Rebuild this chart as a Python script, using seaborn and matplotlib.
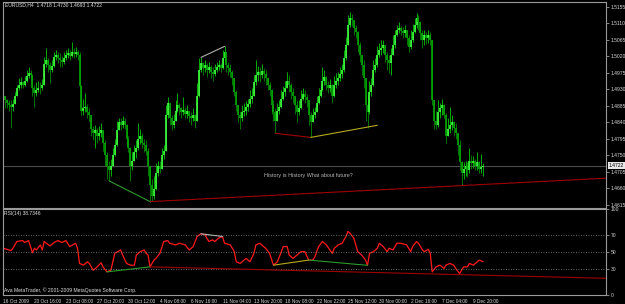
import matplotlib
matplotlib.use('Agg')
import matplotlib.pyplot as plt
import matplotlib.transforms as mtransforms
import numpy as np
import pandas as pd
import seaborn as sns

# EURUSD H4 bars, 16 Oct 2009 .. 10 Dec 2009
first_open = 1.4898
close = [
    1.4913, 1.4900, 1.4892, 1.4886, 1.4883, 1.4889, 1.4913, 1.4933, 1.4943, 1.4949,
    1.4941, 1.4954, 1.4965, 1.4974, 1.4968, 1.4933, 1.4919, 1.4927, 1.4935, 1.4933,
    1.4943, 1.4998, 1.5009, 1.4995, 1.4982, 1.4993, 1.5017, 1.5023, 1.5015, 1.5009,
    1.5004, 1.5015, 1.5023, 1.5028, 1.5020, 1.5031, 1.5025, 1.5031, 1.5023, 1.4938,
    1.4872, 1.4878, 1.4883, 1.4867, 1.4859, 1.4823, 1.4810, 1.4818, 1.4804, 1.4812,
    1.4818, 1.4785, 1.4750, 1.4722, 1.4709, 1.4722, 1.4750, 1.4777, 1.4818, 1.4840,
    1.4832, 1.4845, 1.4834, 1.4796, 1.4771, 1.4722, 1.4736, 1.4758, 1.4769, 1.4796,
    1.4804, 1.4785, 1.4777, 1.4763, 1.4722, 1.4668, 1.4640, 1.4659, 1.4703, 1.4720,
    1.4714, 1.4750, 1.4763, 1.4859, 1.4892, 1.4851, 1.4832, 1.4845, 1.4872, 1.4886,
    1.4878, 1.4867, 1.4875, 1.4864, 1.4872, 1.4856, 1.4851, 1.4861, 1.4845, 1.4913,
    1.4982, 1.5001, 1.4987, 1.4995, 1.4982, 1.4990, 1.4976, 1.4971, 1.4982, 1.4990,
    1.4995, 1.4987, 1.5015, 1.5031, 1.4995, 1.4987, 1.4976, 1.4960, 1.4922, 1.4886,
    1.4859, 1.4851, 1.4867, 1.4872, 1.4881, 1.4889, 1.4905, 1.4913, 1.4949, 1.4968,
    1.4976, 1.4968, 1.4979, 1.4971, 1.4960, 1.4941, 1.4927, 1.4886, 1.4867, 1.4845,
    1.4872, 1.4881, 1.4905, 1.4922, 1.4933, 1.4954, 1.4943, 1.4922, 1.4911, 1.4886,
    1.4867, 1.4878, 1.4905, 1.4916, 1.4908, 1.4900, 1.4859, 1.4840, 1.4859, 1.4867,
    1.4892, 1.4913, 1.4927, 1.4954, 1.4963, 1.4943, 1.4933, 1.4941, 1.4911, 1.4941,
    1.4954, 1.4960, 1.4971, 1.4982, 1.5015, 1.5050, 1.5105, 1.5124, 1.5118, 1.5096,
    1.5086, 1.5050, 1.5023, 1.4995, 1.4960, 1.4886, 1.4867, 1.4922, 1.4941, 1.4982,
    1.4995, 1.5023, 1.5036, 1.5042, 1.5050, 1.5023, 1.5009, 1.5001, 1.5023, 1.5050,
    1.5077, 1.5091, 1.5096, 1.5088, 1.5083, 1.5091, 1.5069, 1.5045, 1.5064, 1.5086,
    1.5105, 1.5124, 1.5113, 1.5083, 1.5064, 1.5077, 1.5069, 1.5077, 1.5064, 1.4900,
    1.4845, 1.4832, 1.4867, 1.4878, 1.4886, 1.4861, 1.4804, 1.4823, 1.4832, 1.4840,
    1.4826, 1.4812, 1.4777, 1.4731, 1.4703, 1.4714, 1.4722, 1.4709, 1.4736, 1.4728,
    1.4736, 1.4722, 1.4731, 1.4714, 1.4718, 1.4722,
]
high = [
    1.4935, 1.4913, 1.4905, 1.4900, 1.4900, 1.4905, 1.4922, 1.4941, 1.4960, 1.4963,
    1.4954, 1.4965, 1.4982, 1.4990, 1.4982, 1.4971, 1.4941, 1.4949, 1.4954, 1.4949,
    1.4957, 1.5017, 1.5042, 1.5015, 1.5004, 1.5009, 1.5031, 1.5036, 1.5031, 1.5028,
    1.5020, 1.5031, 1.5036, 1.5042, 1.5036, 1.5058, 1.5042, 1.5045, 1.5036, 1.5031,
    1.4941, 1.4905, 1.4919, 1.4889, 1.4878, 1.4859, 1.4829, 1.4832, 1.4826, 1.4829,
    1.4837, 1.4818, 1.4791, 1.4758, 1.4736, 1.4741, 1.4769, 1.4796, 1.4845, 1.4853,
    1.4851, 1.4856, 1.4851, 1.4836, 1.4804, 1.4774, 1.4758, 1.4777, 1.4791, 1.4837,
    1.4823, 1.4812, 1.4796, 1.4791, 1.4769, 1.4722, 1.4687, 1.4695, 1.4728, 1.4736,
    1.4736, 1.4771, 1.4777, 1.4886, 1.4908, 1.4894, 1.4859, 1.4864, 1.4900, 1.4919,
    1.4894, 1.4883, 1.4908, 1.4881, 1.4886, 1.4872, 1.4867, 1.4878, 1.4864, 1.4946,
    1.5015, 1.5017, 1.5004, 1.5009, 1.5001, 1.5004, 1.4995, 1.4990, 1.4998, 1.5004,
    1.5009, 1.5001, 1.5036, 1.5047, 1.5033, 1.5004, 1.4998, 1.4982, 1.4962, 1.4927,
    1.4886, 1.4872, 1.4886, 1.4892, 1.4897, 1.4905, 1.4927, 1.4933, 1.4968, 1.5009,
    1.4993, 1.4990, 1.4998, 1.4987, 1.4982, 1.4963, 1.4949, 1.4930, 1.4900, 1.4878,
    1.4892, 1.4900, 1.4927, 1.4938, 1.4954, 1.4976, 1.4968, 1.4946, 1.4933, 1.4913,
    1.4900, 1.4900, 1.4927, 1.4933, 1.4927, 1.4916, 1.4900, 1.4867, 1.4878, 1.4881,
    1.4911, 1.4935, 1.4943, 1.4990, 1.4982, 1.4965, 1.4954, 1.4957, 1.4945, 1.4965,
    1.4974, 1.4976, 1.4990, 1.4998, 1.5036, 1.5072, 1.5132, 1.5140, 1.5135, 1.5118,
    1.5105, 1.5090, 1.5058, 1.5023, 1.5009, 1.4962, 1.4913, 1.4954, 1.4960, 1.5009,
    1.5015, 1.5047, 1.5055, 1.5064, 1.5064, 1.5050, 1.5031, 1.5023, 1.5042, 1.5077,
    1.5091, 1.5105, 1.5113, 1.5102, 1.5099, 1.5105, 1.5091, 1.5077, 1.5091, 1.5107,
    1.5124, 1.5138, 1.5132, 1.5115, 1.5091, 1.5091, 1.5086, 1.5091, 1.5086, 1.5064,
    1.4902, 1.4872, 1.4900, 1.4894, 1.4905, 1.4889, 1.4865, 1.4851, 1.4881, 1.4859,
    1.4845, 1.4837, 1.4812, 1.4791, 1.4736, 1.4731, 1.4736, 1.4731, 1.4771, 1.4750,
    1.4747, 1.4741, 1.4758, 1.4736, 1.4755, 1.4730,
]
low = [
    1.4886, 1.4878, 1.4878, 1.4872, 1.4826, 1.4872, 1.4889, 1.4911, 1.4927, 1.4935,
    1.4933, 1.4938, 1.4949, 1.4960, 1.4954, 1.4913, 1.4881, 1.4913, 1.4922, 1.4916,
    1.4927, 1.4941, 1.4990, 1.4976, 1.4946, 1.4976, 1.4990, 1.5009, 1.5001, 1.4990,
    1.4990, 1.4998, 1.5009, 1.5015, 1.5009, 1.5017, 1.5015, 1.5017, 1.5009, 1.4933,
    1.4859, 1.4859, 1.4867, 1.4853, 1.4845, 1.4804, 1.4791, 1.4769, 1.4785, 1.4791,
    1.4799, 1.4763, 1.4722, 1.4687, 1.4681, 1.4695, 1.4722, 1.4748, 1.4775, 1.4818,
    1.4818, 1.4826, 1.4823, 1.4777, 1.4758, 1.4681, 1.4709, 1.4736, 1.4744, 1.4766,
    1.4782, 1.4771, 1.4758, 1.4750, 1.4695, 1.4624, 1.4627, 1.4632, 1.4655, 1.4695,
    1.4701, 1.4712, 1.4741, 1.4763, 1.4851, 1.4832, 1.4818, 1.4826, 1.4843, 1.4867,
    1.4859, 1.4853, 1.4859, 1.4851, 1.4851, 1.4840, 1.4832, 1.4845, 1.4826, 1.4843,
    1.4910, 1.4976, 1.4968, 1.4976, 1.4963, 1.4974, 1.4960, 1.4954, 1.4965, 1.4976,
    1.4982, 1.4976, 1.4985, 1.5004, 1.4976, 1.4968, 1.4963, 1.4943, 1.4911, 1.4872,
    1.4840, 1.4823, 1.4845, 1.4856, 1.4861, 1.4872, 1.4883, 1.4892, 1.4911, 1.4941,
    1.4954, 1.4949, 1.4960, 1.4954, 1.4943, 1.4927, 1.4911, 1.4864, 1.4845, 1.4810,
    1.4843, 1.4864, 1.4879, 1.4900, 1.4913, 1.4933, 1.4922, 1.4905, 1.4892, 1.4864,
    1.4840, 1.4859, 1.4876, 1.4900, 1.4892, 1.4883, 1.4832, 1.4799, 1.4840, 1.4851,
    1.4867, 1.4890, 1.4908, 1.4925, 1.4943, 1.4927, 1.4919, 1.4922, 1.4892, 1.4909,
    1.4935, 1.4943, 1.4954, 1.4960, 1.4976, 1.5009, 1.5050, 1.5099, 1.5102, 1.5077,
    1.5069, 1.5031, 1.5004, 1.4968, 1.4933, 1.4845, 1.4826, 1.4862, 1.4913, 1.4938,
    1.4976, 1.4992, 1.5017, 1.5023, 1.5028, 1.5004, 1.4982, 1.4974, 1.4968, 1.5023,
    1.5042, 1.5075, 1.5083, 1.5077, 1.5069, 1.5072, 1.5050, 1.5031, 1.5040, 1.5060,
    1.5083, 1.5096, 1.5091, 1.5064, 1.5042, 1.5050, 1.5053, 1.5055, 1.5050, 1.4886,
    1.4823, 1.4823, 1.4828, 1.4851, 1.4859, 1.4851, 1.4785, 1.4804, 1.4812, 1.4818,
    1.4804, 1.4796, 1.4750, 1.4709, 1.4668, 1.4687, 1.4695, 1.4692, 1.4703, 1.4714,
    1.4717, 1.4709, 1.4709, 1.4703, 1.4703, 1.4693,
]

# RSI(14) line, read at roughly every second bar
rsi_bar = [0, 2, 4, 5, 7, 10, 11, 13, 15, 16, 17, 19, 20, 21, 22, 24, 26, 28, 30, 32,
           34, 37, 38, 39, 41, 43, 44, 46, 48, 50, 51, 53, 55, 57, 60, 61, 63, 65, 67, 68,
           70, 72, 73, 74, 75, 77, 78, 80, 82, 84, 85, 88, 90, 93, 95, 97, 99, 101, 103, 105,
           107, 108, 110, 112, 113, 116, 118, 119, 121, 123, 124, 126, 128, 129, 131, 133, 134, 136, 138, 140,
           141, 143, 145, 146, 148, 150, 152, 154, 156, 158, 159, 161, 163, 165, 168, 169, 171, 173, 175, 176,
           177, 179, 181, 183, 185, 186, 187, 189, 191, 192, 194, 196, 197, 199, 201, 203, 206, 208, 209, 211,
           212, 214, 215, 217, 218, 219, 221, 223, 225, 226, 228, 230, 231, 233, 235, 237, 238, 240, 242, 243,
           245]
rsi_value = [54.3, 53.1, 51.6, 54.3, 62.2, 63.3, 61.0, 63.3, 49.2, 54.3, 52.4, 58.2, 52.4, 62.2, 60.2, 57.1, 61.0, 63.3, 61.0, 63.3,
             56.3, 60.2, 54.3, 36.7, 34.7, 38.6, 36.7, 28.8, 32.7, 37.5, 32.7, 26.9, 28.8, 48.4, 52.4, 46.5, 36.7, 34.7, 34.7, 46.5,
             50.4, 52.4, 48.4, 46.5, 32.7, 40.6, 42.5, 48.4, 62.2, 63.3, 60.2, 58.2, 60.2, 58.2, 52.4, 56.3, 68.0, 71.2, 70.0, 62.2,
             64.1, 62.2, 66.1, 68.0, 60.2, 58.2, 50.4, 38.6, 36.7, 40.6, 42.5, 38.6, 48.4, 58.2, 60.2, 56.3, 54.3, 48.4, 34.7, 38.6,
             44.5, 56.3, 56.3, 46.5, 42.5, 46.5, 50.4, 50.4, 40.6, 40.6, 43.7, 56.3, 62.2, 58.2, 48.4, 54.3, 58.2, 60.2, 68.0, 73.9,
             72.0, 66.1, 50.4, 46.5, 40.6, 34.5, 48.4, 50.4, 54.3, 60.2, 56.3, 50.4, 54.3, 52.4, 60.2, 60.2, 58.2, 50.4, 56.3, 62.2,
             60.2, 52.4, 50.4, 53.1, 48.4, 26.9, 32.7, 34.7, 30.8, 34.7, 36.7, 34.7, 30.8, 24.9, 32.7, 32.7, 36.7, 34.7, 38.6, 40.6,
             38.7346]
rsi_levels = [70, 50, 30]
rsi_ticks = [100, 70, 50, 30, 0]

price_ticks = [1.5155, 1.5110, 1.5065, 1.5020, 1.4975, 1.4930, 1.4885,
               1.4840, 1.4795, 1.4750, 1.4705, 1.4660, 1.4615]

date_ticks = [0, 16, 32, 48, 64, 80, 96, 112, 128, 144, 160, 176, 192, 208, 224, 240]
date_labels = ['16 Oct 2009', '20 Oct 16:00', '23 Oct 08:00', '27 Oct 20:00',
               '30 Oct 12:00', '4 Nov 08:00', '6 Nov 16:00', '11 Nov 04:00',
               '13 Nov 20:00', '18 Nov 08:00', '22 Nov 22:00', '25 Nov 12:00',
               '30 Nov 00:00', '2 Dec 16:00', '7 Dec 04:00', '9 Dec 20:00']

# hand drawn trend lines: (colour, bars, values)
price_lines = [
    ('#2a9a2a', [54, 75], [1.4681, 1.4624]),
    ('#a00000', [75, 308], [1.4624, 1.4688]),
    ('#b0b0b0', [101, 113], [1.5017, 1.5047]),
    ('#a00000', [139, 157], [1.4810, 1.4799]),
    ('#b8a820', [157, 191], [1.4799, 1.4832]),
]
rsi_lines = [
    ('#2a9a2a', [53, 75], [26.9, 32.7]),
    ('#a00000', [75, 308], [32.7, 19.4]),
    ('#b0b0b0', [101, 112], [71.2, 68.0]),
    ('#b8a820', [138, 156], [34.7, 40.6]),
    ('#2a9a2a', [156, 186], [40.6, 34.5]),
]

sns.set_theme(style='dark', rc={'axes.facecolor': 'black', 'figure.facecolor': 'black',
                                'axes.edgecolor': '#9a9a9a', 'axes.linewidth': 0.8,
                                'text.color': '#d8d8d8', 'xtick.color': '#d8d8d8',
                                'ytick.color': '#d8d8d8'})
plt.rcParams['font.family'] = ['Liberation Sans', 'DejaVu Sans']
fs = 3.6

W, H = 625.0, 304.0
fig = plt.figure(figsize=(W / 100, H / 100), dpi=100)
ax = fig.add_axes([2.5 / W, 1 - 207.5 / H, 603.5 / W, 205.5 / H])
ax2 = fig.add_axes([2.5 / W, 1 - 295 / H, 603.5 / W, 86 / H])

df = pd.DataFrame({'bar': np.arange(len(close)), 'close': close, 'high': high, 'low': low})
df['open'] = [first_open] + close[:-1]
up = df['close'] >= df['open']

ax.vlines(df['bar'], df['low'], df['high'],
          colors=np.where(up, '#00c800', '#008a00'), lw=0.6)
ax.vlines(df['bar'], df['open'], df['close'],
          colors=np.where(up, '#40ff40', '#00a800'), lw=1.2)

ax.axhline(close[-1], color='#4a4a4a', lw=0.8, zorder=0)
for col, xs, ys in price_lines:
    sns.lineplot(x=xs, y=ys, color=col, lw=0.8, ax=ax)

ax.text(133, 1.4695, 'History is History What about future?', color='#b8b8b8',
        fontsize=fs + 0.3, va='center', ha='left')
ax.text(0.004, 0.985, 'EURUSD,H4  %.4f %.4f %.4f %.4f' % (df['open'].iloc[-1], high[-1], low[-1], close[-1]),
        transform=ax.transAxes, fontsize=fs, va='center', ha='left', color='#e0e0e0')

ax.set_xlim(-0.3, 307.7)
ax.set_ylim(1.4608, 1.5168)
ax.yaxis.tick_right()
ax.set_yticks(price_ticks)
ax.set_yticklabels(['%.4f' % p for p in price_ticks])
ax.set_xticks([])
ax.tick_params(axis='y', labelsize=fs, length=2, width=0.6, color='#9a9a9a', pad=1.5)
ax.set_xlabel('')
ax.set_ylabel('')

# current price tag on the axis
trans = mtransforms.blended_transform_factory(ax.transAxes, ax.transData)
ax.text(1.005, close[-1], '%.4f' % close[-1], transform=trans, fontsize=fs, color='black',
        va='center', ha='left', bbox=dict(boxstyle='square,pad=0.15', fc='#e8e8e8', ec='none'))

# RSI window
sns.lineplot(x=rsi_bar, y=rsi_value, color='#ff1a1a', lw=0.9, ax=ax2)
for lvl in rsi_levels:
    ax2.axhline(lvl, color='#8a8a8a', lw=0.6, ls=(0, (1, 2)))
for col, xs, ys in rsi_lines:
    sns.lineplot(x=xs, y=ys, color=col, lw=0.8, ax=ax2)

ax2.text(0.003, 0.95, 'RSI(14) %.4f' % rsi_value[-1], transform=ax2.transAxes,
         fontsize=fs, va='center', ha='left', color='#e0e0e0')
ax2.text(0.003, 0.06, 'Ava MetaTrader, \u00a9 2001-2009 MetaQuotes Software Corp.',
         transform=ax2.transAxes, fontsize=fs, va='center', ha='left', color='#e0e0e0')

ax2.set_xlim(-0.3, 307.7)
ax2.set_ylim(0, 100)
ax2.yaxis.tick_right()
ax2.set_yticks(rsi_ticks)
ax2.set_yticklabels([str(t) for t in rsi_ticks])
ax2.set_xticks(date_ticks)
ax2.set_xticklabels(date_labels)
for lab in ax2.get_xticklabels():
    lab.set_horizontalalignment('left')
    lab.set_fontsize(3.4)
ax2.tick_params(axis='y', labelsize=fs, length=2, width=0.6, color='#9a9a9a', pad=1.5)
ax2.tick_params(axis='x', length=2, width=0.6, color='#9a9a9a', pad=1.0)
ax2.set_xlabel('')
ax2.set_ylabel('')

fig.savefig('out.png', dpi=100, facecolor='black')
